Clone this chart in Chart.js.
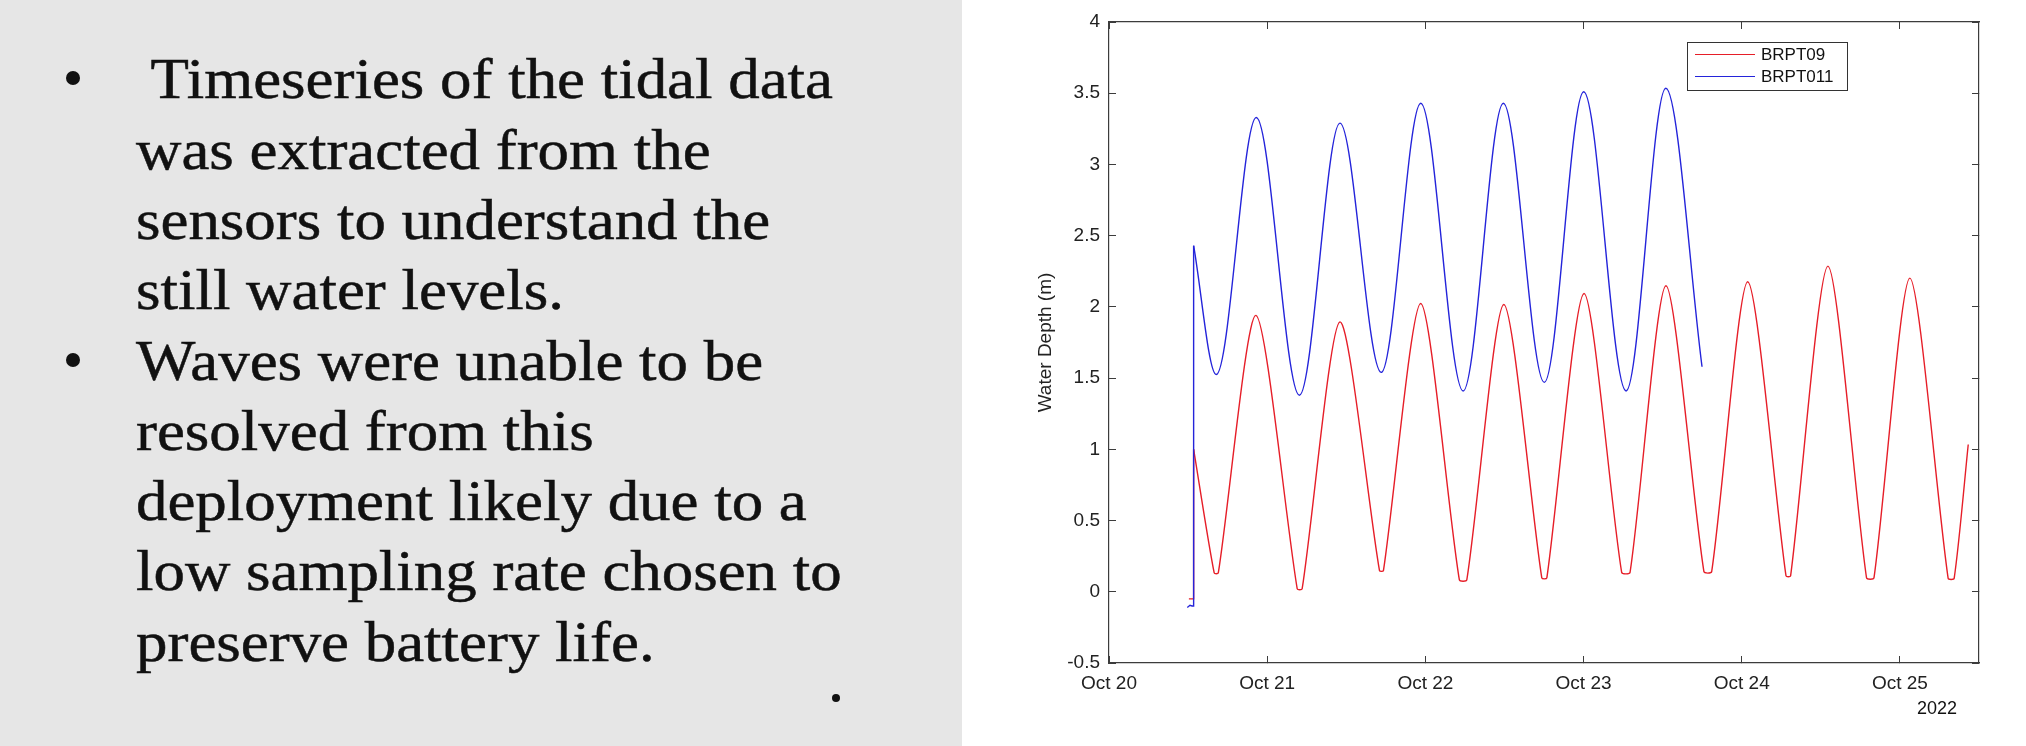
<!DOCTYPE html>
<html>
<head>
<meta charset="utf-8">
<script src="https://cdn.jsdelivr.net/npm/chart.js@4.4.1/dist/chart.umd.min.js"></script>
<style>
  html, body { margin: 0; padding: 0; }
  body { width: 2026px; height: 746px; position: relative; overflow: hidden; background: #fff; }
  .panel { position: absolute; left: 0; top: 0; width: 962px; height: 746px; background: #e6e6e6; }
  .txt { position: absolute; left: 136px; white-space: pre; font-family: 'Liberation Serif', serif;
         font-size: 57px; line-height: 70px; height: 70px; color: #111; transform-origin: 0 0;
         -webkit-text-stroke: 0.5px #111; }
  .dot { position: absolute; border-radius: 50%; background: #111; }
  .plot { position: absolute; left: 962px; top: 0; width: 1064px; height: 746px; }
</style>
</head>
<body>
<div class="panel">
  <div class="dot" style="left:66px;top:71px;width:14px;height:14px"></div>
  <div class="dot" style="left:66px;top:353px;width:14px;height:14px"></div>
  <div class="dot" style="left:832px;top:694px;width:8px;height:8px"></div>
</div>
<div class="plot"><canvas id="chart" width="1064" height="746"></canvas></div>
<script>
// text of the slide, one entry per line as broken in the original
const slideLines = [
  ' Timeseries of the tidal data',
  'was extracted from the',
  'sensors to understand the',
  'still water levels.',
  'Waves were unable to be',
  'resolved from this',
  'deployment likely due to a',
  'low sampling rate chosen to',
  'preserve battery life.'
]

// x ticks: days since Oct 20 2022 00:00
const dayTicks = [0, 1, 2, 3, 4, 5]
const dayLabels = ['Oct 20', 'Oct 21', 'Oct 22', 'Oct 23', 'Oct 24', 'Oct 25']

// BRPT09 (red)
const brpt09StartDays = [0.505, 0.535, 0.535]
const brpt09StartDepth = [-0.05, -0.05, 1.00]
const brpt09Days = [0.535, 0.665, 0.691, 0.929, 1.190, 1.221, 1.460, 1.710, 1.735, 1.971,
  2.215, 2.262, 2.496, 2.736, 2.768, 3.003, 3.241, 3.294, 3.521, 3.761, 3.810, 4.038,
  4.280, 4.309, 4.545, 4.789, 4.836, 5.063, 5.305, 5.343, 5.432]
const brpt09Depth = [1.00, 0.132, 0.132, 1.94, 0.02, 0.02, 1.895, 0.148, 0.148, 2.024,
  0.083, 0.083, 2.017, 0.097, 0.097, 2.094, 0.136, 0.136, 2.148, 0.141, 0.141, 2.176,
  0.111, 0.111, 2.286, 0.097, 0.097, 2.202, 0.094, 0.094, 1.034]

// BRPT011 (blue)
const brpt011StartDays = [0.495, 0.512, 0.525, 0.535, 0.535]
const brpt011StartDepth = [-0.11, -0.095, -0.10, -0.10, 2.43]
const brpt011Days = [0.535, 0.678, 0.931, 1.204, 1.460, 1.721, 1.971, 2.239, 2.493,
  2.752, 3.001, 3.269, 3.520, 3.749]
const brpt011Depth = [2.43, 1.525, 3.33, 1.38, 3.29, 1.54, 3.43, 1.41, 3.43,
  1.47, 3.51, 1.41, 3.535, 1.58]

const RED = 'rgb(230, 30, 40)'
const BLUE = 'rgb(36, 36, 218)'
const AXIS = '#3c3c3c'

// slide text
const baseline0 = 98.5, lineGap = 70.3
let textNodes = slideLines.map((t, i) => {
  let d = document.createElement('div')
  d.className = 'txt'
  d.textContent = t
  // Liberation Serif: baseline sits ~54px below the top of a 70px line box at 57px
  d.style.top = (baseline0 + i * lineGap - 54.2) + 'px'
  document.querySelector('.panel').appendChild(d)
  return d
})
let sx = (833 - 136) / textNodes[0].getBoundingClientRect().width
textNodes.forEach(d => { d.style.transform = 'scaleX(' + sx + ')' })

function pts(xs, ys) {
  return xs.map((x, i) => ({ x: x, y: ys[i] }))
}

const boxLegend = {
  id: 'boxLegend',
  afterDraw(chart) {
    const { ctx, chartArea } = chart
    const x = Math.round(chartArea.left + 578), y = Math.round(chartArea.top + 20)
    const w = 160, h = 48
    ctx.save()
    ctx.fillStyle = '#fff'
    ctx.fillRect(x, y, w, h)
    ctx.strokeStyle = '#333'
    ctx.lineWidth = 1
    ctx.strokeRect(x + 0.5, y + 0.5, w, h)
    ctx.font = '17px "Liberation Sans", Arial, sans-serif'
    ctx.textBaseline = 'middle'
    ctx.fillStyle = '#111'
    chart.data.datasets.filter(ds => ds.inLegend).forEach((ds, i) => {
      let ly = y + 12.5 + i * 22
      ctx.strokeStyle = ds.borderColor
      ctx.beginPath()
      ctx.moveTo(x + 8, ly)
      ctx.lineTo(x + 68, ly)
      ctx.stroke()
      ctx.fillText(ds.label, x + 74, ly + 1)
    })
    // year under the last date label
    ctx.textAlign = 'right'
    ctx.font = '18px "Liberation Sans", Arial, sans-serif'
    ctx.fillText('2022', chartArea.right - 22, chartArea.bottom + 46)
    ctx.restore()
  }
}

const inwardGrid = { drawOnChartArea: false, drawTicks: true, tickLength: -7, color: AXIS, lineWidth: 1 }
const edge = { display: true, color: AXIS, width: 1.2 }

// keep the plot box where it is: no extra room for half-labels
function noPad(s) {
  s.paddingTop = 0
  s.paddingBottom = 0
  s.paddingLeft = 0
  s.paddingRight = 0
}

Chart.defaults.font.family = '"Liberation Sans", Arial, Helvetica, sans-serif'
Chart.defaults.color = '#222'

new Chart(document.getElementById('chart'), {
  type: 'line',
  data: {
    datasets: [
      { label: 'BRPT09', inLegend: true, data: pts(brpt09Days, brpt09Depth), borderColor: RED,
        borderWidth: 1.4, pointRadius: 0, tension: 0.25, order: 2 },
      { label: 'BRPT011', inLegend: true, data: pts(brpt011Days, brpt011Depth), borderColor: BLUE,
        borderWidth: 1.4, pointRadius: 0, cubicInterpolationMode: 'monotone', order: 1 },
      { label: 'BRPT09 start', data: pts(brpt09StartDays, brpt09StartDepth), borderColor: RED,
        borderWidth: 1.4, pointRadius: 0, tension: 0, order: 2 },
      { label: 'BRPT011 start', data: pts(brpt011StartDays, brpt011StartDepth), borderColor: BLUE,
        borderWidth: 1.4, pointRadius: 0, tension: 0, order: 0 }
    ]
  },
  options: {
    responsive: false,
    animation: false,
    devicePixelRatio: 1,
    layout: { autoPadding: false, padding: { left: 0, right: 47, top: 22, bottom: 0 } },
    plugins: { legend: { display: false }, tooltip: { enabled: false } },
    scales: {
      x: {
        type: 'linear', position: 'bottom', min: 0, max: 5.5,
        grid: inwardGrid, border: edge,
        afterBuildTicks: s => { s.ticks = dayTicks.map(v => ({ value: v })) },
        ticks: { font: { size: 19 }, padding: 16, maxRotation: 0,
          callback: v => dayLabels[dayTicks.indexOf(v)] },
        afterFit: s => { s.height = 83; noPad(s) }
      },
      xTop: {
        type: 'linear', position: 'top', min: 0, max: 5.5,
        grid: inwardGrid, border: edge,
        afterBuildTicks: s => { s.ticks = dayTicks.map(v => ({ value: v })) },
        ticks: { display: false },
        afterFit: s => { s.height = 0; noPad(s) }
      },
      y: {
        type: 'linear', position: 'left', min: -0.5, max: 4,
        grid: inwardGrid, border: edge,
        ticks: { stepSize: 0.5, font: { size: 19 }, padding: 16,
          callback: v => String(Math.round(v * 10) / 10) },
        title: { display: true, text: 'Water Depth (m)', font: { size: 19 }, padding: { top: 72, bottom: 0 } },
        afterFit: s => { s.width = 147; noPad(s) }
      },
      yRight: {
        type: 'linear', position: 'right', min: -0.5, max: 4,
        grid: inwardGrid, border: edge,
        ticks: { display: false, stepSize: 0.5 },
        afterFit: s => { s.width = 0; noPad(s) }
      }
    }
  },
  plugins: [boxLegend]
})
</script>
</body>
</html>
